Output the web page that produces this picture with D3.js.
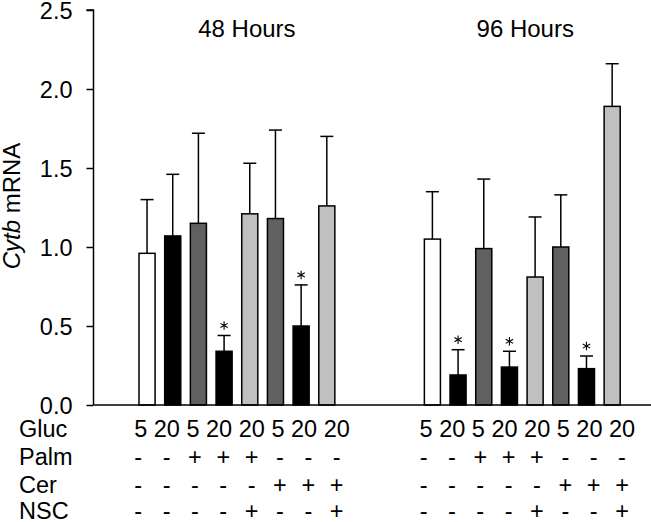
<!DOCTYPE html>
<html>
<head>
<meta charset="utf-8">
<script src="https://cdn.jsdelivr.net/npm/d3@7"></script>
<style>
  html, body { margin: 0; padding: 0; background: #fff; }
  svg { display: block; font-family: "Liberation Sans", Arial, sans-serif; }
</style>
</head>
<body>
<svg id="chart" width="651" height="522"></svg>
<script>
// ---- data ----
const groups = ["48 Hours", "96 Hours"];
const conditions = [0, 1, 2, 3, 4, 5, 6, 7];
const gluc = ["5", "20", "5", "20", "20", "5", "20", "20"];
const palm = ["-", "-", "+", "+", "+", "-", "-", "-"];
const cer  = ["-", "-", "-", "-", "-", "+", "+", "+"];
const nsc  = ["-", "-", "-", "-", "+", "-", "-", "+"];
const mean48 = [0.96, 1.07, 1.15, 0.34, 1.21, 1.18, 0.50, 1.26];
const err48  = [0.34, 0.39, 0.57, 0.10, 0.32, 0.56, 0.26, 0.44];
const mean96 = [1.05, 0.19, 0.99, 0.24, 0.81, 1.00, 0.23, 1.89];
const err96  = [0.30, 0.16, 0.44, 0.10, 0.38, 0.33, 0.08, 0.27];
const sig48 = [0, 0, 0, 1, 0, 0, 1, 0];
const sig96 = [0, 1, 0, 1, 0, 0, 1, 0];
const yTicks = [0, 0.5, 1.0, 1.5, 2.0, 2.5];
const fills = ["#ffffff", "#000000", "#606060", "#000000", "#c0c0c0", "#606060", "#000000", "#c0c0c0"];

const means = [mean48, mean96];
const errs = [err48, err96];
const sigs = [sig48, sig96];

const svg = d3.select("#chart");

const y = d3.scaleLinear().domain([0, 2.5]).range([405, 10]);
const x0 = d3.scaleBand().domain(groups).range([134.2, 625]).paddingInner(0.28).paddingOuter(0);
const bw = x0.bandwidth();
const x1 = d3.scaleBand().domain(conditions).range([0, bw]).paddingInner(0.375).paddingOuter(0.1875);
const xs = d3.scalePoint().domain(conditions).range([4, bw - 3]);

const data = [];
groups.forEach((g, gi) => {
  conditions.forEach((c, ci) => {
    data.push({ g, c, v: means[gi][ci], e: errs[gi][ci], s: sigs[gi][ci], fill: fills[ci] });
  });
});

// error bars (drawn behind bars)
const eb = svg.append("g").attr("stroke", "#000").attr("stroke-width", 1.5);
data.forEach(d => {
  const cx = x0(d.g) + x1(d.c) + x1.bandwidth() / 2;
  eb.append("line").attr("x1", cx).attr("x2", cx).attr("y1", y(d.v)).attr("y2", y(d.v + d.e));
  eb.append("line").attr("x1", cx - 6.5).attr("x2", cx + 6.5).attr("y1", y(d.v + d.e)).attr("y2", y(d.v + d.e));
});

// bars
svg.append("g").selectAll("rect").data(data).join("rect")
  .attr("x", d => x0(d.g) + x1(d.c))
  .attr("y", d => y(d.v))
  .attr("width", x1.bandwidth())
  .attr("height", d => y(0) - y(d.v))
  .attr("fill", d => d.fill)
  .attr("stroke", "#000")
  .attr("stroke-width", 1.5);

// significance asterisks
const star = d3.symbol().type(d3.symbolAsterisk).size(50);
svg.append("g").selectAll("path").data(data.filter(d => d.s)).join("path")
  .attr("d", star)
  .attr("transform", d => `translate(${x0(d.g) + x1(d.c) + x1.bandwidth() / 2},${y(d.v + d.e) - 10})`)
  .attr("fill", "none")
  .attr("stroke", "#000")
  .attr("stroke-width", 1.1);

// y axis
const yAxis = svg.append("g").attr("transform", "translate(93.5,0)")
  .call(d3.axisLeft(y).tickValues(yTicks).tickFormat(d3.format(".1f")).tickSize(7).tickPadding(14));
yAxis.select(".domain").attr("stroke-width", 1.5).attr("d", `M-7,${y(2.5)}H0V${y(0)}`);
yAxis.selectAll(".tick line").attr("stroke-width", 1.5);
yAxis.selectAll("text").attr("font-size", 23.5).attr("dy", "0.37em")
  .attr("font-family", "Liberation Sans, Arial, sans-serif").attr("fill", "#000");

// x axis baseline
svg.append("line").attr("x1", 93.5).attr("x2", 651).attr("y1", y(0)).attr("y2", y(0))
  .attr("stroke", "#000").attr("stroke-width", 1.5);

// y label
const yl = svg.append("text").attr("transform", `translate(20,${206}) rotate(-90)`)
  .attr("text-anchor", "middle").attr("font-size", 24).attr("fill", "#000");
yl.append("tspan").attr("font-style", "italic").text("Cytb");
yl.append("tspan").text(" mRNA");

// group titles
svg.append("g").selectAll("text").data(groups).join("text")
  .attr("x", (g, i) => x0(g) + bw / 2 + (i === 0 ? 10 : 3))
  .attr("y", 37)
  .attr("text-anchor", "middle")
  .attr("font-size", 24)
  .text(g => g);

// table
const rows = [
  { label: "Gluc", vals: gluc, y: 437 },
  { label: "Palm", vals: palm, y: 465 },
  { label: "Cer", vals: cer, y: 493 },
  { label: "NSC", vals: nsc, y: 519 }
];
const tbl = svg.append("g").attr("font-size", 23.5).attr("fill", "#000");
rows.forEach((r, ri) => {
  tbl.append("text").attr("x", 19).attr("y", r.y).text(r.label);
  groups.forEach(g => {
    if (ri === 0) {
      tbl.append("text").attr("x", x0(g)).attr("y", r.y).text(r.vals.join(" "));
    } else {
      r.vals.forEach((v, ci) => {
        tbl.append("text").attr("x", x0(g) + xs(ci)).attr("y", r.y)
          .attr("text-anchor", "middle").text(v);
      });
    }
  });
});
</script>
</body>
</html>
